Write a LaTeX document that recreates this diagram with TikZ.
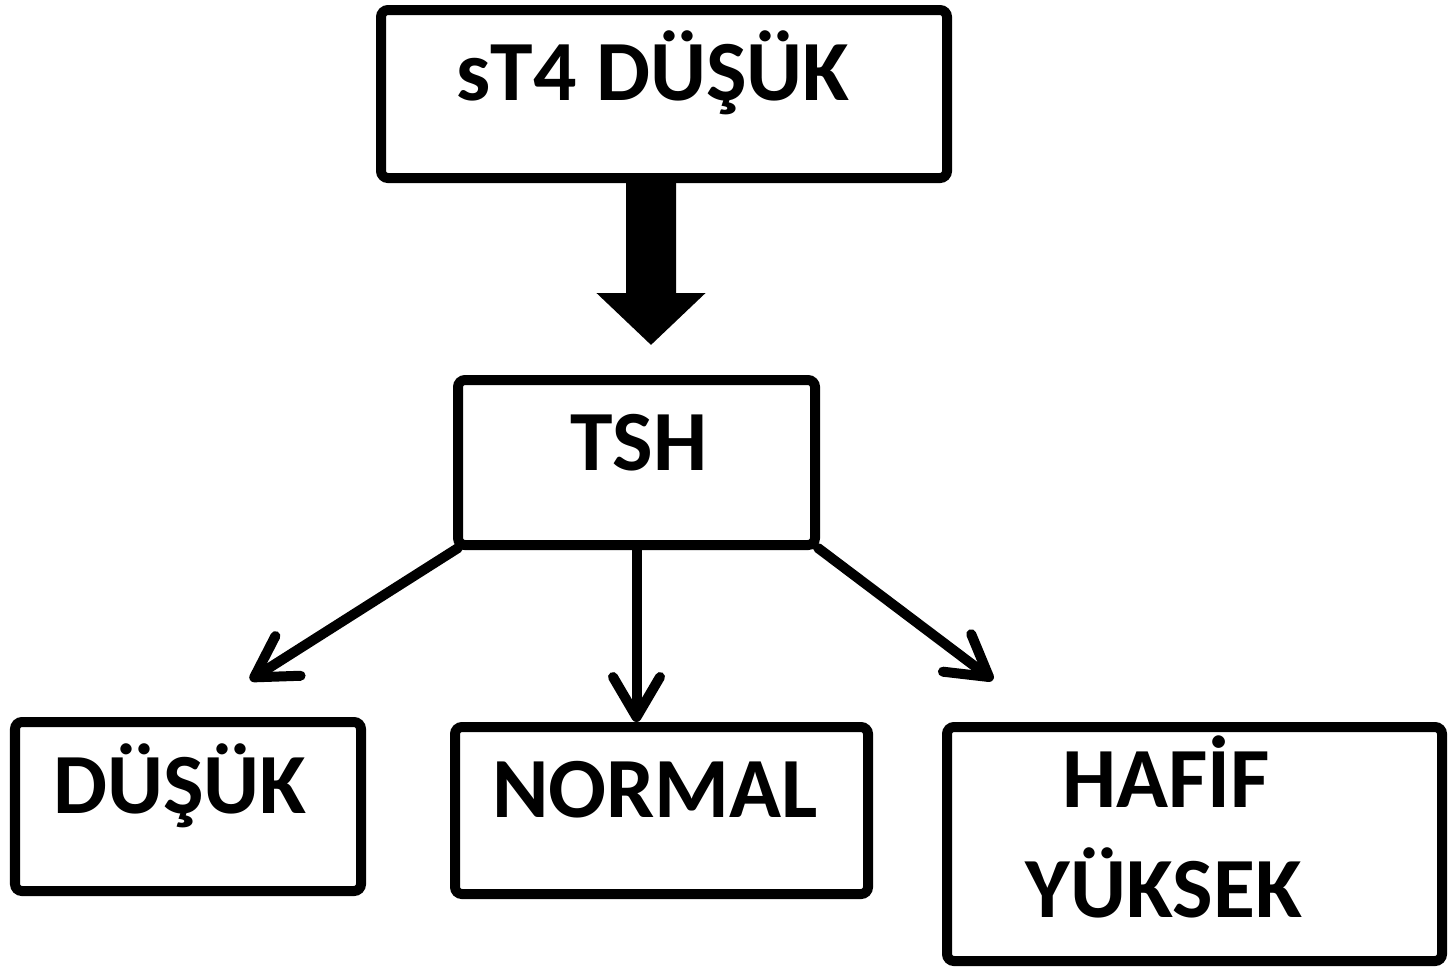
\documentclass[tikz,border=0pt]{standalone}
\usepackage{fontspec}
\setmainfont{Carlito}
\usepackage{xcolor}
\usetikzlibrary{arrows.meta}
\definecolor{boxblack}{RGB}{0, 0, 0}
\tikzset{
    flowbox/.style={draw=boxblack,line width=0.1cm,rounded corners=2pt,fill=white,inner sep=0pt},
    flowtext/.style={font=\fontsize{24.4}{29}\selectfont\bfseries,anchor=base,inner sep=0pt},
    thinarrow/.style={draw=boxblack,line width=0.1cm,line cap=round,-{Straight Barb[length=0.4cm,width=0.47cm,line cap=round,round]}},
    bigarrow/.style={draw=boxblack,line width=0.5cm,-{Triangle[length=0.52cm,width=1.06cm]}}
}
\begin{document}
\begin{tikzpicture}
    \useasboundingbox (0,0) rectangle (14.53,-9.69);

    % Top box
    \node[flowbox,minimum width=5.66cm,minimum height=1.68cm] (st4) at (6.64,-0.94) {};
    \node[flowtext] (st4text) at (6.53,-1.00) {sT4 DÜŞÜK};

    % TSH box
    \node[flowbox,minimum width=3.57cm,minimum height=1.65cm] (tsh) at (6.365,-4.625) {};
    \node[flowtext] (tshtext) at (6.39,-4.70) {TSH};

    % Result boxes
    \node[flowbox,minimum width=3.46cm,minimum height=1.69cm] (low) at (1.88,-8.065) {};
    \node[flowtext] (lowtext) at (1.80,-8.13) {DÜŞÜK};

    \node[flowbox,minimum width=4.13cm,minimum height=1.67cm] (normal) at (6.615,-8.105) {};
    \node[flowtext] (normaltext) at (6.55,-8.17) {NORMAL};

    \node[flowbox,minimum width=4.95cm,minimum height=2.34cm] (high) at (11.945,-8.44) {};
    \node[flowtext] (hightext) at (11.66,-8.07) {HAFİF};
    \node[flowtext] (hightext2) at (11.64,-9.17) {YÜKSEK};

    % Arrows
    \draw[bigarrow] ([xshift=-0.13cm]st4.south) -- ([xshift=0.145cm,yshift=0.30cm]tsh.north);

    \coordinate (lowtip) at (2.50,-6.80);
    \coordinate (hightip) at (9.93,-6.80);
    \draw[thinarrow] ([xshift=0.05cm,yshift=0.02cm]tsh.south west) -- (lowtip);
    \draw[thinarrow] (tsh.south) -- (tsh.south |- normal.north);
    \draw[thinarrow] ([xshift=-0.02cm,yshift=0.02cm]tsh.south east) -- (hightip);
\end{tikzpicture}
\end{document}
